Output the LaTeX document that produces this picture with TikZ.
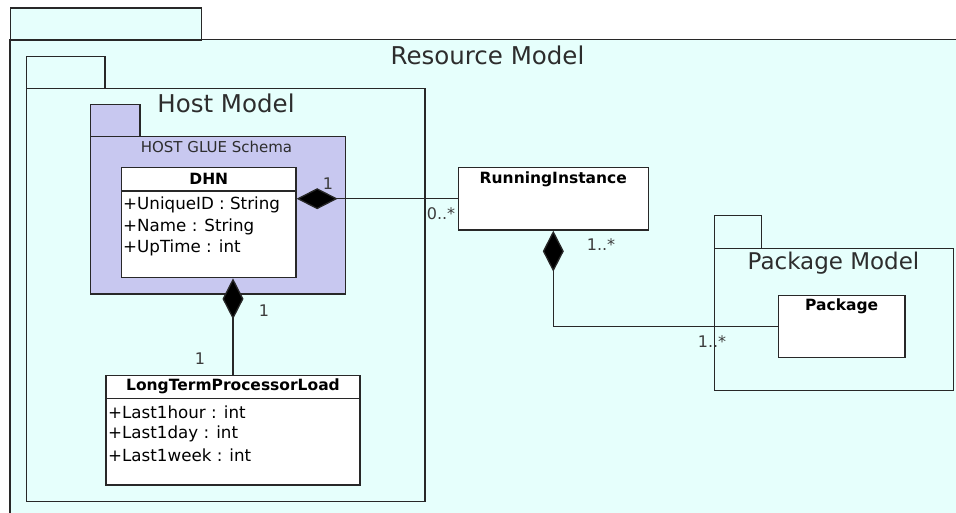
\documentclass[tikz,border=0pt]{standalone}
\usepackage{fontspec}
\setmainfont{DejaVu Sans}
\usetikzlibrary{arrows.meta}
\definecolor{bgcyan}{RGB}{230,255,252}
\definecolor{glue}{RGB}{200,200,240}
\definecolor{linec}{RGB}{40,40,40}
\definecolor{txtc}{RGB}{45,45,45}
\definecolor{multc}{RGB}{60,60,60}
\tikzset{
  pkgbox/.style={draw=linec, line width=1.3pt, inner sep=0pt, anchor=north west},
  clsbox/.style={draw=linec, line width=1.3pt, fill=white, inner sep=0pt},
  pkglabel/.style={text=txtc, inner sep=0pt, font=\fontsize{24.5}{28}\selectfont},
  clstitle/.style={text=black, inner sep=0pt, font=\bfseries\fontsize{15.5}{18}\selectfont},
  attr/.style={text=black, inner sep=0pt, anchor=west, font=\fontsize{16.7}{19}\selectfont},
  mult/.style={text=multc, inner sep=0pt, font=\fontsize{16}{19}\selectfont},
  comp/.style={draw=linec, line width=1.3pt, {Diamond[length=41pt,width=21pt,fill=black]}-},
  assoc/.style={draw=linec, line width=1.3pt}
}
\begin{document}
\begin{tikzpicture}[x=1pt,y=-1pt]
\useasboundingbox (0,0) rectangle (956,513);
\fill[white] (0,0) rectangle (956,513);
% Resource Model package
\fill[bgcyan] (10,7.3) rectangle (200.7,39.3);
\fill[bgcyan] (10,39.3) rectangle (956,513);
\node[pkgbox, minimum width=190.7pt, minimum height=32pt] (restab) at (10,7.3) {};
\coordinate (resTR) at (956,39.3);
\coordinate (resBL) at (10,513);
\draw[draw=linec, line width=1.3pt] (resTR) -- (10,39.3) -- (resBL);
\node[pkglabel] (reslbl) at (487.5,55) {Resource Model};
% Host Model package
\node[pkgbox, minimum width=78.3pt, minimum height=31.7pt] (hosttab) at (26,56) {};
\node[pkgbox, minimum width=398.3pt, minimum height=413.3pt] (host) at (26,87.7) {};
\node[pkglabel] (hostlbl) at (226,103) {Host Model};
% HOST GLUE Schema package
\node[pkgbox, fill=glue, minimum width=49.3pt, minimum height=32pt] (gluetab) at (90,103.7) {};
\node[pkgbox, fill=glue, minimum width=254.5pt, minimum height=157.6pt] (glue) at (90,135.7) {};
\node[text=txtc, inner sep=0pt, font=\fontsize{15}{18}\selectfont] (gluelbl) at (216.5,146.7) {HOST GLUE Schema};
% DHN class
\node[clsbox, minimum width=174.3pt, minimum height=110pt] (dhn) at (208.85,222.7) {};
\draw[draw=linec, line width=1.3pt] (dhn.west |- 0,191) -- (dhn.east |- 0,191);
\node[clstitle] (dhnt) at (208.8,179.3) {DHN};
\node[attr] (dhna1) at (123,205) {+UniqueID : String};
\node[attr] (dhna2) at (123,226.7) {+Name : String};
\node[attr] (dhna3) at (123,248.3) {+UpTime : int};
% RunningInstance class
\node[clsbox, minimum width=190pt, minimum height=62.7pt] (ri) at (553.3,198.7) {};
\node[clstitle] (rit) at (553.3,179) {RunningInstance};
% Package Model package
\node[pkgbox, minimum width=46.7pt, minimum height=32.7pt] (pkgtab) at (714,215) {};
\node[pkgbox, minimum width=238.7pt, minimum height=142.3pt] (pkgmodel) at (714,247.7) {};
\node[pkglabel, font=\fontsize{23}{27}\selectfont] (pkglbl) at (833.5,263.3) {Package Model};
% Package class
\node[clsbox, minimum width=126.7pt, minimum height=62pt] (pkg) at (841.7,326.7) {};
\node[clstitle] (pkgt) at (841.7,306.7) {Package};
% LongTermProcessorLoad class
\node[clsbox, minimum width=254pt, minimum height=109.3pt] (ltpl) at (233,430.35) {};
\draw[draw=linec, line width=1.3pt] (ltpl.west |- 0,398.3) -- (ltpl.east |- 0,398.3);
\node[clstitle] (ltplt) at (233,386.7) {LongTermProcessorLoad};
\node[attr] (la1) at (108,412.7) {+Last1hour : int};
\node[attr] (la2) at (108,434.3) {+Last1day : int};
\node[attr] (la3) at (108,455.7) {+Last1week : int};
% connectors
\draw[comp] (dhn.east |- ri.west) -- (ri.west);
\draw[comp] (ltpl.north |- dhn.south) -- (ltpl.north);
\draw[comp] (ri.south) |- (pkg.west);
% multiplicities
\node[mult] (m1) at (328,184) {1};
\node[mult] (m2) at (441,214) {0..*};
\node[mult] (m3) at (264,311) {1};
\node[mult] (m4) at (200,359) {1};
\node[mult] (m5) at (601,245) {1..*};
\node[mult] (m6) at (712,342) {1..*};
\end{tikzpicture}
\end{document}
